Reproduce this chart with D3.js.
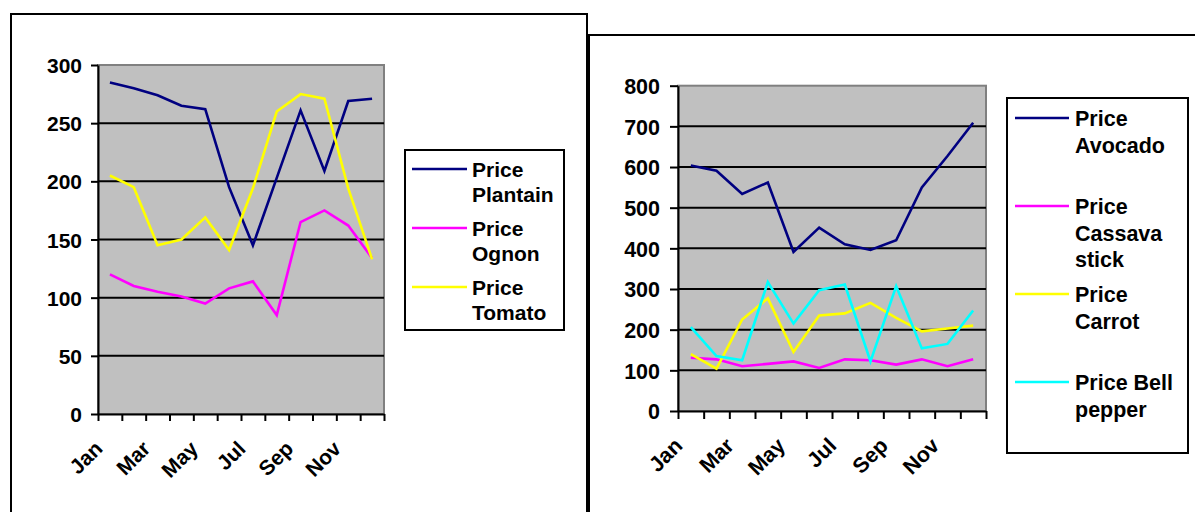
<!DOCTYPE html>
<html>
<head>
<meta charset="utf-8">
<script src="https://cdn.jsdelivr.net/npm/d3@7"></script>
<style>
  html, body { margin: 0; padding: 0; background: #fff; }
  svg { display: block; }
  text { font-family: "Liberation Sans", Arial, sans-serif; font-weight: bold; fill: #000; }
</style>
</head>
<body>
<svg id="chart" width="1195" height="512"></svg>
<script>
// ---------- DATA ----------
const months = ["Jan","Feb","Mar","Apr","May","Jun","Jul","Aug","Sep","Oct","Nov","Dec"];

const pricePlantain = [285, 280, 274, 265, 262, 195, 145, 203, 261, 209, 269, 271];
const priceOgnon    = [120, 110, 105, 101, 95, 108, 114, 85, 165, 175, 162, 134];
const priceTomato   = [205, 195, 145, 150, 169, 141, 194, 260, 275, 271, 194, 133];

const priceAvocado   = [604, 591, 534, 562, 391, 451, 410, 396, 420, 550, 627, 709];
const priceCassava   = [131, 127, 110, 116, 122, 106, 127, 125, 114, 127, 110, 127];
const priceCarrot    = [140, 104, 225, 277, 145, 235, 240, 266, 229, 196, 203, 210];
const priceBellPepper= [206, 135, 125, 317, 215, 297, 311, 122, 307, 154, 165, 247];

const leftTicks  = [0, 50, 100, 150, 200, 250, 300];
const rightTicks = [0, 100, 200, 300, 400, 500, 600, 700, 800];

const leftSeries = [
  { name: ["Price", "Plantain"], values: pricePlantain, color: "#000080" },
  { name: ["Price", "Ognon"],    values: priceOgnon,    color: "#FF00FF" },
  { name: ["Price", "Tomato"],   values: priceTomato,   color: "#FFFF00" }
];
const rightSeries = [
  { name: ["Price", "Avocado"],         values: priceAvocado,    color: "#000080" },
  { name: ["Price", "Cassava", "stick"], values: priceCassava,   color: "#FF00FF" },
  { name: ["Price", "Carrot"],          values: priceCarrot,     color: "#FFFF00" },
  { name: ["Price Bell", "pepper"],     values: priceBellPepper, color: "#00FFFF" }
];

// ---------- DRAW ----------
const svg = d3.select("#chart");
svg.append("rect").attr("width", 1195).attr("height", 512).attr("fill", "#fff");

// outer chart frames
svg.append("rect").attr("x", 11).attr("y", 14).attr("width", 576).attr("height", 560)
  .attr("fill", "none").attr("stroke", "#000").attr("stroke-width", 2);
svg.append("rect").attr("x", 589).attr("y", 35).attr("width", 700).attr("height", 560)
  .attr("fill", "none").attr("stroke", "#000").attr("stroke-width", 2);

function drawChart(cfg) {
  const g = svg.append("g");
  const x = d3.scaleBand().domain(months).range([cfg.x0, cfg.x1]).padding(0);
  const xi = d3.scaleLinear().domain([0, months.length]).range([cfg.x0, cfg.x1]);
  const y = d3.scaleLinear().domain([0, cfg.max]).range([cfg.yBottom, cfg.yTop]);

  // plot area
  g.append("rect")
    .attr("x", cfg.x0).attr("y", y(cfg.max))
    .attr("width", cfg.x1 - cfg.x0).attr("height", y(0) - y(cfg.max))
    .attr("fill", "#C0C0C0").attr("stroke", "#808080").attr("stroke-width", 2);

  // gridlines
  g.append("g").selectAll("line")
    .data(cfg.ticks.filter(t => t > 0 && t < cfg.max))
    .join("line")
    .attr("x1", cfg.x0).attr("x2", cfg.x1)
    .attr("y1", d => y(d)).attr("y2", d => y(d))
    .attr("stroke", "#000").attr("stroke-width", 2);

  // series lines
  const line = d3.line()
    .x((d, i) => x(months[i]) + x.bandwidth() / 2)
    .y(d => y(d));
  cfg.series.forEach(s => {
    g.append("path").datum(s.values)
      .attr("d", line)
      .attr("fill", "none")
      .attr("stroke", s.color)
      .attr("stroke-width", 2.6)
      .attr("stroke-linejoin", "miter");
  });

  // y axis
  const yAxis = g.append("g").attr("transform", `translate(${cfg.x0},0)`)
    .call(d3.axisLeft(y).tickValues(cfg.ticks).tickSize(cfg.tickLen).tickPadding(cfg.tickPad).tickSizeOuter(0));
  yAxis.select(".domain").attr("stroke", "#000").attr("stroke-width", 2);
  yAxis.selectAll(".tick line").attr("stroke", "#000").attr("stroke-width", 2);
  yAxis.selectAll(".tick text")
    .attr("font-size", cfg.fontSize)
    .attr("font-family", "Liberation Sans, Arial, sans-serif")
    .attr("font-weight", "bold")
    .attr("fill", "#000")
    .attr("dy", "0.36em");

  // x axis (ticks at category boundaries)
  const xAxis = g.append("g").attr("transform", `translate(0,${cfg.yBottom})`)
    .call(d3.axisBottom(xi).tickValues(d3.range(months.length + 1)).tickSize(cfg.tickLen).tickFormat("").tickSizeOuter(0));
  xAxis.select(".domain").attr("stroke", "#000").attr("stroke-width", 2);
  xAxis.selectAll(".tick line").attr("stroke", "#000").attr("stroke-width", 2);

  // x labels (every other month), rotated -45
  g.append("g").selectAll("text")
    .data(months.filter((m, i) => i % 2 === 0))
    .join("text")
    .attr("transform", d => `translate(${x(d) + x.bandwidth() / 2 - cfg.lblDx},${cfg.yBottom + cfg.lblDy}) rotate(-45)`)
    .attr("text-anchor", "end")
    .attr("font-size", cfg.fontSize)
    .text(d => d);

  // legend
  const lg = g.append("g");
  lg.append("rect")
    .attr("x", cfg.legend.x).attr("y", cfg.legend.y)
    .attr("width", cfg.legend.w).attr("height", cfg.legend.h)
    .attr("fill", "#fff").attr("stroke", "#000").attr("stroke-width", 2);
  cfg.series.forEach((s, i) => {
    const base = cfg.legend.firstBaseline + i * cfg.legend.entryStep;
    lg.append("line")
      .attr("x1", cfg.legend.lx0).attr("x2", cfg.legend.lx1)
      .attr("y1", base - 8).attr("y2", base - 8)
      .attr("stroke", s.color).attr("stroke-width", 2.6);
    const t = lg.append("text")
      .attr("x", cfg.legend.tx).attr("y", base)
      .attr("font-size", cfg.fontSize);
    s.name.forEach((ln, j) => {
      t.append("tspan").attr("x", cfg.legend.tx)
        .attr("y", base + j * cfg.legend.lineH).text(ln);
    });
  });
}

drawChart({
  x0: 98, x1: 384, yTop: 65, yBottom: 414, max: 300, ticks: leftTicks,
  tickLen: 7, tickPad: 9, fontSize: 21, lblDx: 6, lblDy: 36,
  series: leftSeries,
  legend: { x: 405, y: 150, w: 159, h: 180, lx0: 412, lx1: 467, tx: 472,
            firstBaseline: 177, entryStep: 59, lineH: 24.5 }
});

drawChart({
  x0: 678, x1: 986, yTop: 85.7, yBottom: 411, max: 800, ticks: rightTicks,
  tickLen: 8, tickPad: 10, fontSize: 21.5, lblDx: 7, lblDy: 36,
  series: rightSeries,
  legend: { x: 1007, y: 98, w: 181, h: 355, lx0: 1015, lx1: 1069, tx: 1075,
            firstBaseline: 126, entryStep: 88, lineH: 26.5 }
});
</script>
</body>
</html>
